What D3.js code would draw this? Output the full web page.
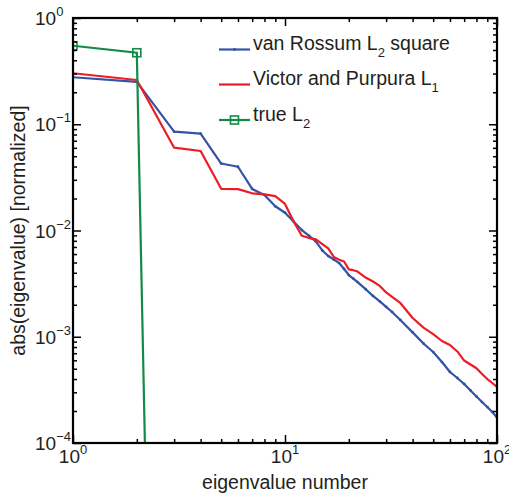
<!DOCTYPE html>
<html>
<head>
<meta charset="utf-8">
<script src="https://cdn.jsdelivr.net/npm/d3@7"></script>
<style>
  body { margin: 0; background: #fff; }
  text { font-family: "Liberation Sans", Arial, sans-serif; fill: #231f20; }
</style>
</head>
<body>
<div id="chart"></div>
<script>
//////////////////////////////////////////////////////////////
///////////////////////// Data ///////////////////////////////
//////////////////////////////////////////////////////////////

var eigIndex = [1, 2, 3, 4, 5, 6, 7, 8, 9, 10, 11, 12, 13, 14, 15, 16, 17, 18, 19, 20, 21, 22,
    24, 26, 28, 30, 32, 35, 40, 45, 50, 55, 60, 65, 70, 75, 80, 85, 90, 95, 100];

var vanRossum = [0.277, 0.251, 0.0851, 0.0815, 0.0427, 0.0398, 0.0246, 0.0216, 0.0169, 0.0147,
    0.0121, 0.0101, 0.00888, 0.00785, 0.00649, 0.00575, 0.00533, 0.00494, 0.00434, 0.00381,
    0.00353, 0.00327, 0.00281, 0.00242, 0.00215, 0.00191, 0.00171, 0.00144, 0.00110, 0.000864,
    0.000718, 0.000578, 0.000466, 0.000409, 0.000359, 0.000312, 0.000274, 0.000243, 0.000218,
    0.000196, 0.000174];

var victorPurpura = [0.302, 0.261, 0.0602, 0.0560, 0.0247, 0.0245, 0.0224, 0.0219, 0.0211, 0.0178,
    0.0121, 0.00893, 0.00849, 0.00826, 0.00746, 0.00680, 0.00563, 0.00530, 0.00511, 0.00431,
    0.00423, 0.00411, 0.00361, 0.00331, 0.00301, 0.00261, 0.00237, 0.00208, 0.00150, 0.00122,
    0.00106, 0.000912, 0.000836, 0.000727, 0.000597, 0.000548, 0.000505, 0.000446, 0.000400,
    0.000367, 0.000337];

var trueIndex = [1, 2, 3];
var trueL2 = [0.548, 0.471, 5e-18];

var xMajor = [1, 10, 100];
var xMajorExp = ["0", "1", "2"];
var xMinor = [2, 3, 4, 5, 6, 7, 8, 9, 20, 30, 40, 50, 60, 70, 80, 90];

var yMajor = [1e-4, 1e-3, 1e-2, 1e-1, 1];
var yMajorExp = ["\u22124", "\u22123", "\u22122", "\u22121", "0"];
var yMinor = [2e-4, 3e-4, 4e-4, 5e-4, 6e-4, 7e-4, 8e-4, 9e-4,
    2e-3, 3e-3, 4e-3, 5e-3, 6e-3, 7e-3, 8e-3, 9e-3,
    2e-2, 3e-2, 4e-2, 5e-2, 6e-2, 7e-2, 8e-2, 9e-2,
    0.2, 0.3, 0.4, 0.5, 0.6, 0.7, 0.8, 0.9];

//////////////////////////////////////////////////////////////
/////////////////////// Settings /////////////////////////////
//////////////////////////////////////////////////////////////

var width = 509, height = 498;
var plot = {left: 73, right: 497, top: 18, bottom: 443};

var blue = "#3453a4", red = "#ec1c24", green = "#138a47";

var svg = d3.select("#chart").append("svg")
    .attr("width", width)
    .attr("height", height);

var xScale = d3.scaleLog().domain([1, 100]).range([plot.left, plot.right]);
var yScale = d3.scaleLog().domain([1e-4, 1]).range([plot.bottom, plot.top]);

//Clip to the axes box
svg.append("defs").append("clipPath")
    .attr("id", "clip")
    .append("rect")
        .attr("x", plot.left)
        .attr("y", plot.top)
        .attr("width", plot.right - plot.left)
        .attr("height", plot.bottom - plot.top);

//////////////////////////////////////////////////////////////
///////////////////////// Lines //////////////////////////////
//////////////////////////////////////////////////////////////

var line = d3.line()
    .x(function(d) { return xScale(d[0]); })
    .y(function(d) { return yScale(d[1]); });

var blueData = eigIndex.map(function(n, i) { return [n, vanRossum[i]]; });
var redData = eigIndex.map(function(n, i) { return [n, victorPurpura[i]]; });
var greenData = trueIndex.map(function(n, i) { return [n, trueL2[i]]; });

var plotG = svg.append("g").attr("clip-path", "url(#clip)");

plotG.append("path")
    .datum(blueData)
    .attr("d", line)
    .attr("fill", "none")
    .attr("stroke", blue)
    .attr("stroke-width", 2.2)
    .attr("stroke-linejoin", "round");

plotG.selectAll(".blueDot")
    .data(blueData).enter()
    .append("circle")
        .attr("class", "blueDot")
        .attr("cx", function(d) { return xScale(d[0]); })
        .attr("cy", function(d) { return yScale(d[1]); })
        .attr("r", 1.4)
        .attr("fill", blue);

plotG.append("path")
    .datum(redData)
    .attr("d", line)
    .attr("fill", "none")
    .attr("stroke", red)
    .attr("stroke-width", 2.2)
    .attr("stroke-linejoin", "round");

plotG.append("path")
    .datum(greenData)
    .attr("d", line)
    .attr("fill", "none")
    .attr("stroke", green)
    .attr("stroke-width", 2.2);

plotG.selectAll(".greenMarker")
    .data(greenData).enter()
    .append("rect")
        .attr("class", "greenMarker")
        .attr("x", function(d) { return xScale(d[0]) - 4; })
        .attr("y", function(d) { return yScale(d[1]) - 4; })
        .attr("width", 8)
        .attr("height", 8)
        .attr("fill", "none")
        .attr("stroke", green)
        .attr("stroke-width", 1.6);

//////////////////////////////////////////////////////////////
///////////////////////// Axes ///////////////////////////////
//////////////////////////////////////////////////////////////

function addTicks(axisFn, scale, vals, size, transform) {
    var g = svg.append("g")
        .attr("transform", transform)
        .call(axisFn(scale).tickValues(vals).tickSize(size).tickFormat(""));
    g.select(".domain").remove();
    g.selectAll("line").attr("stroke", "#000").attr("stroke-width", 1.5);
}

addTicks(d3.axisBottom, xScale, xMajor, -8, "translate(0," + plot.bottom + ")");
addTicks(d3.axisBottom, xScale, xMinor, -4, "translate(0," + plot.bottom + ")");
addTicks(d3.axisTop, xScale, xMajor, -8, "translate(0," + plot.top + ")");
addTicks(d3.axisTop, xScale, xMinor, -4, "translate(0," + plot.top + ")");
addTicks(d3.axisLeft, yScale, yMajor, -8, "translate(" + plot.left + ",0)");
addTicks(d3.axisLeft, yScale, yMinor, -4, "translate(" + plot.left + ",0)");
addTicks(d3.axisRight, yScale, yMajor, -8, "translate(" + plot.right + ",0)");
addTicks(d3.axisRight, yScale, yMinor, -4, "translate(" + plot.right + ",0)");

//Box
svg.append("rect")
    .attr("x", plot.left)
    .attr("y", plot.top)
    .attr("width", plot.right - plot.left)
    .attr("height", plot.bottom - plot.top)
    .attr("fill", "none")
    .attr("stroke", "#000")
    .attr("stroke-width", 2.2);

//X tick labels
var xLabels = svg.selectAll(".xLabel")
    .data(xMajor).enter()
    .append("text")
        .attr("class", "xLabel")
        .attr("x", function(d) { return xScale(d); })
        .attr("y", 463)
        .attr("text-anchor", "middle")
        .style("font-size", "19px")
        .text("10");
xLabels.append("tspan")
    .attr("dy", -9)
    .style("font-size", "13px")
    .text(function(d, i) { return xMajorExp[i]; });

//Y tick labels
var yLabels = svg.selectAll(".yLabel")
    .data(yMajor).enter()
    .append("text")
        .attr("class", "yLabel")
        .attr("x", 35)
        .attr("y", function(d) { return yScale(d) + 7; })
        .style("font-size", "19px")
        .text("10");
yLabels.append("tspan")
    .attr("dy", -9)
    .style("font-size", "13px")
    .text(function(d, i) { return yMajorExp[i]; });

//Axis titles
svg.append("text")
    .attr("x", (plot.left + plot.right) / 2)
    .attr("y", 489)
    .attr("text-anchor", "middle")
    .style("font-size", "19.5px")
    .text("eigenvalue number");

svg.append("text")
    .attr("transform", "translate(25," + ((plot.top + plot.bottom) / 2) + ") rotate(-90)")
    .attr("text-anchor", "middle")
    .style("font-size", "19.5px")
    .text("abs(eigenvalue) [normalized]");

//////////////////////////////////////////////////////////////
//////////////////////// Legend //////////////////////////////
//////////////////////////////////////////////////////////////

var legendMain = ["van Rossum L", "Victor and Purpura L", "true L"];
var legendSub = ["2", "1", "2"];
var legendTail = [" square", "", ""];
var legendColors = [blue, red, green];
var legendY = [49.5, 84.5, 120];

var legend = svg.selectAll(".legendItem")
    .data(legendMain).enter()
    .append("g")
        .attr("class", "legendItem")
        .attr("transform", function(d, i) { return "translate(219," + legendY[i] + ")"; });

legend.append("line")
    .attr("x1", 0).attr("x2", 31)
    .attr("y1", 0).attr("y2", 0)
    .attr("stroke", function(d, i) { return legendColors[i]; })
    .attr("stroke-width", 2.2);

legend.filter(function(d, i) { return i === 0; })
    .append("circle")
        .attr("cx", 15.5).attr("cy", 0).attr("r", 1.4)
        .attr("fill", blue);

legend.filter(function(d, i) { return i === 2; })
    .append("rect")
        .attr("x", 11.5).attr("y", -4)
        .attr("width", 8).attr("height", 8)
        .attr("fill", "none")
        .attr("stroke", green)
        .attr("stroke-width", 1.6);

var legendText = legend.append("text")
    .attr("x", 34)
    .attr("y", 0.5)
    .style("font-size", "19.5px")
    .text(function(d) { return d; });
legendText.append("tspan")
    .attr("dy", 7)
    .style("font-size", "13px")
    .text(function(d, i) { return legendSub[i]; });
legendText.append("tspan")
    .attr("dy", -7)
    .text(function(d, i) { return legendTail[i]; });
</script>
</body>
</html>
